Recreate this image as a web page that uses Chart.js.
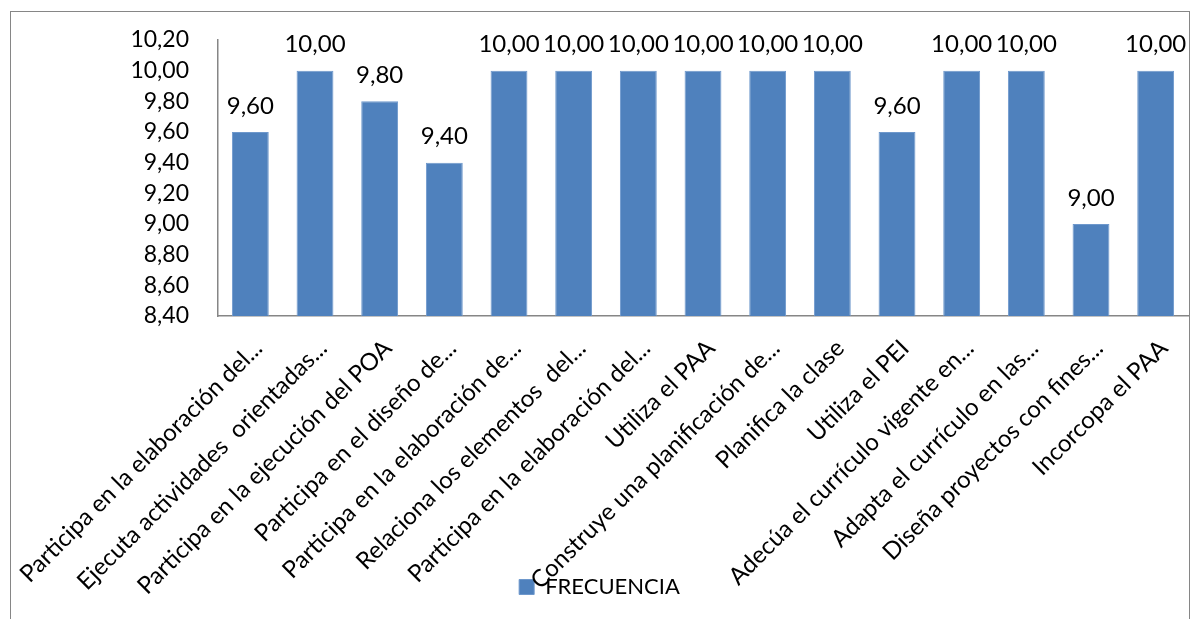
<!DOCTYPE html>
<html>
<head>
<meta charset="utf-8">
<script src="https://cdn.jsdelivr.net/npm/chart.js@4"></script>
<style>
  html, body { margin: 0; padding: 0; background: #fff; overflow: hidden; }
  #frame {
    position: absolute; left: 10px; top: 11px;
    width: 1178px; height: 640px;
    border: 1px solid #868686;
  }
  #wrap { position: relative; width: 1178px; height: 607px; }
</style>
</head>
<body>
<div id="frame">
  <div id="wrap"><canvas id="chart"></canvas></div>
</div>
<script>
// categorías (tal como aparecen, recortadas)
const categories = [
  "Participa en la elaboración del...",
  "Ejecuta actividades  orientadas...",
  "Participa en la ejecución del POA",
  "Participa en el diseño de...",
  "Participa en la elaboración de...",
  "Relaciona los elementos  del...",
  "Participa en la elaboración del...",
  "Utiliza el PAA",
  "Construye una planificación de...",
  "Planifica la clase",
  "Utiliza el PEI",
  "Adecúa el currículo vigente en...",
  "Adapta el currículo en las...",
  "Diseña proyectos con fines...",
  "Incorcopa el PAA"
];
const frecuencia = [9.6, 10, 9.8, 9.4, 10, 10, 10, 10, 10, 10, 9.6, 10, 10, 9, 10];
const yMin = 8.4;
const yMax = 10.2;
const yStep = 0.2;

const FONT = "Lato, 'Open Sans', sans-serif";
const fmt = v => Number(v).toFixed(2).replace(".", ",");

// etiquetas de valor encima de cada barra
const valueLabels = {
  id: "valueLabels",
  afterDatasetsDraw(chart) {
    const ctx = chart.ctx;
    const meta = chart.getDatasetMeta(0);
    ctx.save();
    ctx.font = "24px " + FONT;
    ctx.fillStyle = "#000";
    ctx.textAlign = "center";
    ctx.textBaseline = "bottom";
    meta.data.forEach((bar, i) => {
      ctx.fillText(fmt(frecuencia[i]), bar.x, bar.y - 14);
    });
    ctx.restore();
  }
};

// las etiquetas del eje x se salen de su caja (como en el original): no recortarlas
const noLabelClip = {
  id: "noLabelClip",
  afterLayout(chart) {
    chart.scales.x.bottom = chart.height;
  }
};

new Chart(document.getElementById("chart"), {
  type: "bar",
  data: {
    labels: categories,
    datasets: [{
      label: "FRECUENCIA",
      data: frecuencia,
      backgroundColor: "#4F81BD",
      borderColor: "#6E98CC",
      borderWidth: 1,
      categoryPercentage: 1,
      barPercentage: 0.57
    }]
  },
  options: {
    responsive: true,
    maintainAspectRatio: false,
    animation: false,
    layout: { padding: { top: 28, left: 0, right: 1, bottom: 11 } },
    plugins: {
      legend: {
        position: "bottom",
        labels: {
          boxWidth: 15, boxHeight: 15, padding: 4,
          color: "#000",
          font: { family: FONT, size: 22 }
        }
      },
      tooltip: { enabled: false }
    },
    scales: {
      x: {
        grid: { display: false },
        border: { display: true, color: "#868686", width: 1.5 },
        afterFit: s => { s.height = 256; s.paddingLeft = 0; s.paddingRight = 0; },
        ticks: {
          autoSkip: false, minRotation: 45, maxRotation: 45,
          color: "#000", padding: 10, labelOffset: 8,
          font: { family: FONT, size: 24 }
        }
      },
      y: {
        min: yMin, max: yMax,
        grid: { display: false },
        border: { display: true, color: "#868686", width: 1.5 },
        afterFit: s => { s.width = 207; s.paddingTop = 0; s.paddingBottom = 0; },
        ticks: {
          stepSize: yStep, color: "#000", padding: 21,
          font: { family: FONT, size: 23 },
          callback: v => fmt(v)
        }
      }
    }
  },
  plugins: [valueLabels, noLabelClip]
});
</script>
</body>
</html>
